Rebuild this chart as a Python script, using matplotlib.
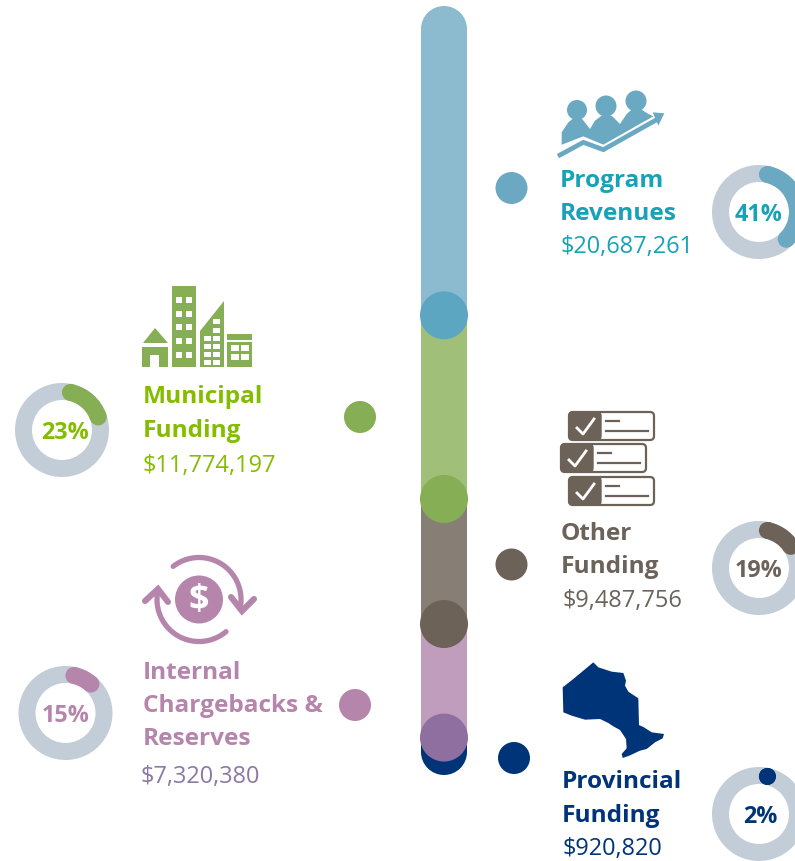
import numpy as np
import matplotlib
matplotlib.use("Agg")
import matplotlib.pyplot as plt
from matplotlib.patches import Circle, Rectangle, Polygon, FancyBboxPatch, Wedge

# ---- data ----
names = [["Program", "Revenues"], ["Municipal", "Funding"], ["Other", "Funding"],
         ["Internal", "Chargebacks &", "Reserves"], ["Provincial", "Funding"]]
amounts = ["$20,687,261", "$11,774,197", "$9,487,756", "$7,320,380", "$920,820"]
percents = [41, 23, 19, 15, 2]
column_lengths = [39.6, 25.4, 17.3, 15.7, 2.0]   # share of the column as drawn

# ---- styles ----
text_col = ["#17A2B8", "#84BD00", "#6B625A", "#B685AC", "#003478"]
value_col = ["#17A2B8", "#84BD00", "#6B625A", "#8C78A2", "#003478"]
mark_col = ["#6BA8C2", "#86AE55", "#6C6258", "#B685AC", "#003478"]
bar_col = ["#8CBBD0", "#A0BF78", "#877F76", "#C09DBD", "#003478"]
joint_col = ["#5CA6C2", "#86AE55", "#6C6258", "#8F6FA0"]
RING = "#C3CDD7"
FONT = "Open Sans"

W, H = 795, 862
fig = plt.figure(figsize=(W / 100, H / 100), dpi=100, facecolor="white")

# column axes: stacked bars on a value scale
col_top, col_bot, col_l, col_r = 30, 753, 421, 467
cax = fig.add_axes([col_l / W, 1 - col_bot / H, (col_r - col_l) / W, (col_bot - col_top) / H], zorder=1)
cax.set_xlim(0, 1)
cax.set_ylim(sum(column_lengths), 0)
cax.axis("off")
bottom = 0
for v, c in zip(column_lengths, bar_col):
    cax.bar(0.5, v, bottom=bottom, width=1, color=c, linewidth=0)
    bottom += v

ax = fig.add_axes([0, 0, 1, 1], zorder=2)
ax.set_xlim(0, W)
ax.set_ylim(H, 0)
ax.axis("off")
ax.patch.set_alpha(0)

# round ends of the column and joints
cum = np.cumsum(column_lengths)
scale = (col_bot - col_top) / cum[-1]
CX = (col_l + col_r) / 2
ax.add_patch(Circle((CX, col_top), 23, fc=bar_col[0], lw=0))
ax.add_patch(Circle((CX, col_top + cum[4] * scale), 23, fc=bar_col[4], lw=0))
for i in range(4):
    ax.add_patch(Circle((CX, col_top + cum[i] * scale), 24, fc=joint_col[i], lw=0))

# bullets
bullets = [(511.5, 189), (360, 418), (511.5, 565.5), (355, 706), (514, 759)]
for (x, y), c in zip(bullets, mark_col):
    ax.add_patch(Circle((x, y), 16, fc=c, lw=0))

# donuts (y axis is inverted, so wedge angles run clockwise on screen; -90 is the top)
centers = [(759, 213), (62, 431), (759, 569), (65.5, 714), (759, 815)]
label_x = [759, 65, 759, 65.5, 760]
R_OUT, THICK = 47, 17
R = R_OUT - THICK / 2
cap = np.degrees((THICK / 2) / R)
for (cx, cy), lx, p, mc, tc in zip(centers, label_x, percents, mark_col, text_col):
    ax.add_patch(Circle((cx, cy), R_OUT, fc=RING, lw=0))
    ax.add_patch(Circle((cx, cy), R_OUT - THICK, fc="white", lw=0))
    a0 = cap
    a1 = max(a0, p * 3.6 - cap)
    ax.add_patch(Wedge((cx, cy), R_OUT, a0 - 90, a1 - 90, width=THICK, fc=mc, lw=0))
    for a in (a0, a1):
        r = np.radians(a)
        ax.add_patch(Circle((cx + R * np.sin(r), cy - R * np.cos(r)), THICK / 2, fc=mc, lw=0))
    ax.text(lx, cy + 8, f"{p}%", ha="center", va="baseline", color=tc, fontsize=16.8,
            fontweight="bold", family=FONT)

# labels
NS, VS = 17.6, 16.9
layout = [
    (560, [187, 220], 560, 253),
    (143, [403, 437], 143, 472),
    (561, [540, 573], 563, 607),
    (143, [679, 712, 745], 140, 783),
    (562, [788, 822], 563, 855),
]
for (x, ys, vx, vy), nm, am, tc, vc in zip(layout, names, amounts, text_col, value_col):
    for y, s in zip(ys, nm):
        ax.text(x, y, s, color=tc, fontsize=NS, fontweight="bold", family=FONT, va="baseline")
    ax.text(vx, vy, am, color=vc, fontsize=VS, family=FONT, va="baseline")


def zp(ox, oy, pts):
    return [(ox + a / 3, oy + b / 3) for a, b in pts]


# --- Program icon ---
c = mark_col[0]
for x, y, r in [(577, 111, 10), (606, 107, 10.5), (636, 102, 10.5)]:
    ax.add_patch(Circle((x, y), r, fc=c, lw=0))
body = [(65, 210), (65, 160), (85, 130), (100, 118), (125, 118), (150, 150), (165, 125), (185, 110), (215, 110),
        (240, 135), (260, 105), (275, 92), (305, 92), (325, 105), (340, 112), (340, 210)]
ax.add_patch(Polygon(zp(540, 80, body), closed=True, fc=c, lw=0))
cover = [(50, 203), (130, 172), (190, 197), (340, 112), (385, 112), (385, 250), (50, 250)]
ax.add_patch(Polygon(zp(540, 80, cover), closed=True, fc="white", lw=0))
arrow = [(60, 228), (130, 190), (190, 212), (350, 122)]
ax.plot(*zip(*zp(540, 80, arrow)), color=c, lw=3.4, solid_joinstyle="miter")
ax.add_patch(Polygon(zp(540, 80, [(338, 100), (373, 103), (355, 140)]), closed=True, fc=c, lw=0))

# --- Municipal icon ---
c = mark_col[1]
ax.add_patch(Rectangle((172, 287), 24, 81, fc=c, lw=0))
for wy in [298, 312, 325, 339, 353]:
    for wx in [176, 186]:
        ax.add_patch(Rectangle((wx, wy), 5.5, 5.5, fc="white", lw=0))
ax.add_patch(Polygon([(143, 344), (155, 329), (168, 344)], closed=True, fc=c, lw=0))
ax.add_patch(Rectangle((142, 348), 26, 20, fc=c, lw=0))
ax.add_patch(Rectangle((150, 356), 9, 12, fc="white", lw=0))
ax.add_patch(Polygon([(200, 332), (224, 302), (224, 368), (200, 368)], closed=True, fc=c, lw=0))
for wy, xs in [(320, [213]), (329, [213]), (337, [204, 213]), (345, [204, 213]), (353, [204, 213]), (361, [204, 213])]:
    for wx in xs:
        ax.add_patch(Rectangle((wx, wy), 7, 4.5, fc="white", lw=0))
ax.add_patch(Rectangle((227, 335), 25, 6, fc=c, lw=0))
ax.add_patch(Rectangle((227, 343), 25, 25, fc=c, lw=0))
for wy in [346, 355]:
    for wx in [231, 241]:
        ax.add_patch(Rectangle((wx, wy), 7.5, 5.5, fc="white", lw=0))

# --- Checklist icon ---
c = mark_col[2]
for (x0, y0) in [(569, 413), (561, 445), (569, 478)]:
    w, h = 85, 28
    ax.add_patch(FancyBboxPatch((x0, y0), w, h, boxstyle="round,pad=0,rounding_size=4", fc="white", ec=c, lw=1.6))
    ax.add_patch(FancyBboxPatch((x0, y0), 32, h, boxstyle="round,pad=0,rounding_size=4", fc=c, ec=c, lw=1.0))
    ax.add_patch(Rectangle((x0 + 22, y0), 10, h, fc=c, lw=0))
    ax.plot([x0 + 8, x0 + 14, x0 + 25], [y0 + 16, y0 + 22, y0 + 7], color="white", lw=2.0)
    ax.plot([x0 + 37, x0 + 50], [y0 + 9, y0 + 9], color=c, lw=1.6)
    ax.plot([x0 + 37, x0 + 79], [y0 + 19, y0 + 19], color=c, lw=1.6)

# --- Dollar icon ---
c = mark_col[3]
dx, dy = 199, 600.5
ax.add_patch(Circle((dx, dy), 24, fc=c, lw=0))
ax.text(dx, dy + 0.5, "$", ha="center", va="center", color="white", fontsize=26, fontweight="bold", family=FONT)
t = np.radians(np.linspace(128, -13, 60))
ax.plot(dx + 42 * np.cos(t), dy - 42 * np.sin(t), color=c, lw=3.8, solid_capstyle="round")
t = np.radians(np.linspace(-50, -194, 60))
ax.plot(dx + 42 * np.cos(t), dy - 42 * np.sin(t), color=c, lw=3.8, solid_capstyle="round")
ax.plot([231, 242, 254], [598, 612, 600], color=c, lw=4.4, solid_capstyle="round", solid_joinstyle="miter")
ax.plot([145, 158, 168], [602, 590, 603], color=c, lw=4.4, solid_capstyle="round", solid_joinstyle="miter")

# --- Ontario icon ---
ont = [(160, 40), (175, 55), (215, 68), (250, 72), (258, 95), (255, 110), (265, 128), (295, 148), (297, 228),
       (312, 235), (335, 250), (372, 255), (368, 268), (345, 280), (320, 300), (300, 305), (268, 320), (248, 327),
       (245, 315), (260, 298), (258, 270), (240, 243), (220, 232), (205, 222), (180, 210), (135, 212), (95, 200),
       (70, 190), (68, 115), (100, 90), (130, 65)]
ax.add_patch(Polygon(zp(540, 650, ont), closed=True, fc=mark_col[4], lw=0))

fig.savefig("out.png", dpi=100, facecolor="white")
